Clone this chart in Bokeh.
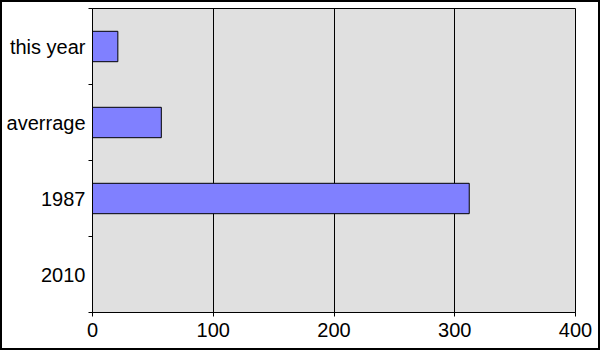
import numpy as np
from bokeh.plotting import figure
from bokeh.models import FixedTicker, Range1d
from bokeh.embed import file_html
from bokeh.resources import INLINE

categories = ["2010", "1987", "averrage", "this year"]
values = [0, 312, 57, 21]
x_ticks = [0, 100, 200, 300, 400]

pos = np.arange(len(categories)) + 0.5

p = figure(width=600, height=350, output_backend="svg", toolbar_location=None,
           x_range=Range1d(0, 400), y_range=Range1d(0, len(categories)),
           min_border_left=90, min_border_top=6, min_border_right=27, min_border_bottom=40)
p.styles = {"border": "2px solid black"}
p.background_fill_color = "#e0e0e0"
p.border_fill_color = "white"
p.outline_line_color = "black"
p.outline_line_width = 1

p.hbar(y=pos, right=values, left=0, height=0.4,
       fill_color="#8080ff", line_color="black", line_width=1)

p.xgrid.ticker = FixedTicker(ticks=x_ticks)
p.xgrid.grid_line_color = "black"
p.xgrid.grid_line_width = 1
p.ygrid.grid_line_color = None

p.xaxis.ticker = FixedTicker(ticks=x_ticks)
p.xaxis.major_tick_out = 4
p.xaxis.major_tick_in = 0
p.xaxis.minor_tick_line_color = None
p.xaxis.major_label_standoff = 6
p.xaxis.axis_line_color = "black"

p.yaxis.ticker = FixedTicker(ticks=list(pos), minor_ticks=list(range(len(categories) + 1)))
p.yaxis.major_label_overrides = {float(v): c for v, c in zip(pos, categories)}
p.yaxis.major_tick_line_color = None
p.yaxis.major_tick_out = 4
p.yaxis.major_tick_in = 0
p.yaxis.minor_tick_out = 4
p.yaxis.minor_tick_in = 0
p.yaxis.minor_tick_line_color = "black"
p.yaxis.major_label_standoff = 3

for ax in (p.xaxis, p.yaxis):
    ax.major_label_text_font = "Liberation Sans"
    ax.major_label_text_font_size = "20px"
    ax.major_label_text_color = "black"
    ax.axis_line_color = "black"

open("out.html", "w").write(file_html(p, INLINE))
